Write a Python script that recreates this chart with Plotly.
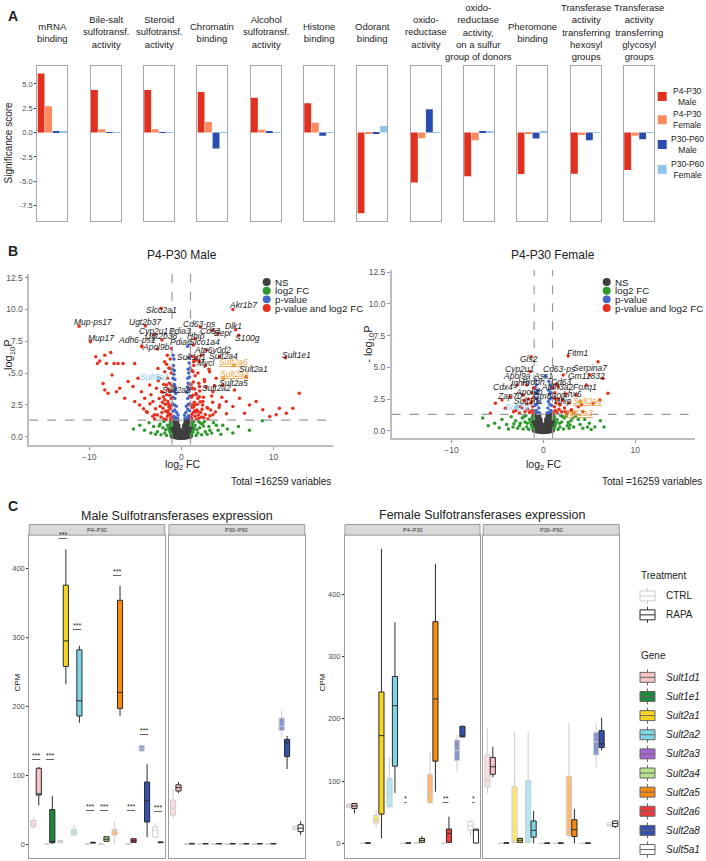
import plotly.graph_objects as go

W, H = 706, 861
FONT = "Liberation Sans, Arial, sans-serif"

# ---------------- Panel A data ----------------
go_terms = ["mRNA<br>binding", "Bile-salt<br>sulfotransf.<br>activity", "Steroid<br>sulfotransf.<br>activity",
            "Chromatin<br>binding", "Alcohol<br>sulfotransf.<br>activity", "Histone<br>binding",
            "Odorant<br>binding", "oxido-<br>reductase<br>activity",
            "oxido-<br>reductase<br>activity,<br>on a sulfur<br>group of donors",
            "Pheromone<br>binding", "Transferase<br>activity<br>transferring<br>hexosyl<br>groups",
            "Transferase<br>activity<br>transferring<br>glycosyl<br>groups"]
groups = ["P4-P30 Male", "P4-P30 Female", "P30-P60 Male", "P30-P60 Female"]
group_labels = ["P4-P30<br>Male", "P4-P30<br>Female", "P30-P60<br>Male", "P30-P60<br>Female"]
p4_male = [6.07, 4.37, 4.37, 4.16, 3.58, 3.0, -8.29, -5.12, -4.5, -4.27, -4.24, -3.86]
p4_female = [2.69, 0.35, 0.35, 1.09, 0.3, 1.02, -0.15, -0.58, -0.79, -0.1, -0.25, -0.34]
p30_male = [0.15, -0.05, -0.03, -1.64, 0.05, -0.34, -0.15, 2.39, 0.1, -0.61, -0.79, -0.68]
p30_female = [0.05, -0.05, -0.03, -0.05, -0.05, -0.03, 0.68, -0.03, 0.05, 0.1, -0.03, -0.03]
bar_colors = ["#E1301F", "#FB8A5E", "#2B4EAE", "#8FC4EB"]
a_ticks = [-7.5, -5.0, -2.5, 0.0, 2.5, 5.0]

# ---------------- Panel B data (volcano) ----------------
FC_CUT = 1.0
P_CUT = 1.3
male_ns = [(-0.9,0.1),(-0.6,0.05),(-0.3,0.02),(0,0.01),(0.3,0.02),(0.6,0.05),(0.9,0.1),(-0.8,0.4),(-0.5,0.3),
           (-0.2,0.2),(0.2,0.2),(0.5,0.3),(0.8,0.4),(-0.9,0.7),(-0.6,0.6),(-0.35,0.5),(0.35,0.5),(0.6,0.6),
           (0.9,0.7),(-0.95,1.0),(-0.7,0.95),(-0.45,0.85),(0.45,0.85),(0.7,0.95),(0.95,1.0),(-0.9,1.25),
           (-0.6,1.2),(0.6,1.2),(0.9,1.25),(-0.15,0.1),(0.15,0.1)]
male_green = [(-1.1,0.2),(-1.3,0.5),(-1.5,0.9),(-1.2,1.1),(-1.8,0.3),(-2.0,0.7),(-2.3,1.0),(-1.6,0.1),(-2.6,0.4),
              (-3.0,0.8),(-3.5,1.1),(-2.8,0.2),(-4.0,0.5),(-3.3,0.3),(-1.4,0.7),(-1.9,1.2),(-4.5,0.9),(-5.2,0.6),
              (-1.05,0.9),(-2.2,0.15),(1.1,0.2),(1.3,0.5),(1.5,0.9),(1.2,1.1),(1.8,0.3),(2.0,0.7),(2.3,1.0),
              (1.6,0.1),(2.6,0.4),(3.0,0.8),(3.5,1.1),(2.8,0.2),(4.0,0.5),(3.3,0.3),(1.4,0.7),(1.9,1.2),(4.5,0.9),
              (5.0,0.6),(5.6,0.3),(6.2,0.8),(7.4,0.5),(8.8,1.25),(1.05,0.9),(2.2,0.15),(3.8,0.9),(4.3,0.2),(2.5,1.2),
              (-1.2,0.35),(-1.7,0.55),(-2.4,0.85),(1.25,0.35),(1.7,0.55),(2.4,0.85),(3.1,0.5),(2.1,1.05),(1.35,1.2)]
male_blue = [(-0.95,1.5),(-0.8,1.6),(-0.6,1.5),(-0.4,1.45),(-0.9,2.0),(-0.7,2.1),(-0.5,1.9),(-0.35,1.7),(-0.95,2.6),
             (-0.75,2.5),(-0.55,2.4),(-0.9,3.1),(-0.7,3.0),(-0.6,3.4),(-0.85,3.6),(-0.95,4.0),(-0.75,4.1),(-0.65,3.9),
             (-0.9,4.6),(-0.8,4.9),(-0.7,4.5),(-0.95,5.3),(-0.85,5.6),(-0.8,6.1),(-0.9,6.4),(-0.75,5.2),
             (0.95,1.5),(0.8,1.65),(0.6,1.5),(0.4,1.45),(0.9,2.05),(0.7,2.15),(0.5,1.9),(0.35,1.7),(0.95,2.6),
             (0.75,2.55),(0.55,2.4),(0.9,3.2),(0.7,3.0),(0.6,3.5),(0.85,3.7),(0.95,4.1),(0.75,4.2),(0.65,3.9),
             (0.9,4.7),(0.8,5.0),(0.7,4.6),(0.95,5.4),(0.85,5.8),(0.8,6.2),(0.75,5.3),(0.7,7.1),(-0.6,3.7)]
male_red = [(-2.2,10.1),(5.6,10.0),(-11.1,8.68),(-3.9,8.7),(2.06,8.63),(3.43,8.37),(3.97,8.11),(5.9,8.4),(6.24,7.98),
            (-9.86,7.46),(-3.0,8.0),(-2.1,7.6),(-4.3,7.1),(-2.6,6.9),(1.5,7.7),(1.3,7.2),(2.7,6.81),(4.15,6.28),
            (11.3,6.2),(1.98,5.89),(7.04,4.72),(5.77,3.68),(3.43,3.54),(1.6,6.2),
            (-9.28,6.28),(-9.1,5.76),(-8.85,5.95),(-8.3,6.41),(-7.66,6.62),(-8.13,5.76),(-7.52,4.85),(-7.3,5.76),
            (-6.86,5.76),(-6.32,5.76),(-5.06,5.76),(-8.49,4.19),(-8.31,3.68),(-7.95,3.41),(-7.04,3.54),(-6.68,3.8),
            (-6.14,3.02),(-5.78,4.33),(-5.24,3.94),(-5.06,2.76),(-4.7,4.59),(-4.33,3.54),(-4.52,2.5),(-3.98,3.02),
            (-3.79,1.98),(-3.43,4.07),(-3.08,2.76),(-2.89,1.72),(-2.53,5.37),(-2.35,4.59),(-2.17,3.54),(-1.99,2.24),
            (-1.81,5.89),(-1.62,4.07),(-1.45,2.76),(-1.37,1.72),(-1.27,5.37),(-1.52,6.41),(-1.08,6.93),(-4.27,7.07),
            (12.8,3.41),(12.1,2.24),(10.65,2.24),(11.4,1.85),(10.3,1.72),(9.6,1.59),(8.84,2.11),(8.12,2.76),(7.4,2.5),
            (6.86,1.85),(6.32,3.02),(5.6,2.37),(4.88,2.76),(4.5,4.07),(3.79,4.59),(3.07,5.11),(2.52,4.33),(1.98,3.94),
            (1.62,3.29),(1.44,2.5),(1.8,1.98),(2.34,2.76),(2.88,2.24),(3.43,1.72),(4.15,2.5),(1.26,5.11),(1.19,3.8),
            (1.33,5.89),
            (-1.1,1.5),(-1.3,1.8),(-1.2,2.2),(-1.5,1.6),(-1.7,2.0),(-1.4,2.6),(-1.1,3.0),(-1.9,1.4),(-2.1,1.9),
            (-1.6,3.3),(-1.2,3.6),(-2.3,2.4),(-1.8,2.9),(-2.6,1.7),(-1.3,4.2),(-2.0,3.5),(-2.8,2.2),(-1.5,4.6),
            (-1.1,5.0),(-2.4,3.0),(-3.1,1.6),(-1.9,4.1),(-1.25,2.45),(-1.65,1.35),(-2.2,1.55),(-1.05,4.0),(-3.4,2.6),
            (-2.7,3.8),(-1.35,5.4),(-1.8,5.1),(-2.9,1.4),(-3.7,1.9),(-1.15,1.35),(-1.45,2.05),(-2.5,4.4),(-1.6,5.7),
            (-1.2,6.1),(-3.3,3.3),(-4.1,2.2),(-2.05,2.7),
            (1.1,1.5),(1.3,1.9),(1.2,2.3),(1.5,1.6),(1.7,2.1),(1.4,2.7),(1.1,3.1),(1.9,1.45),(2.1,1.9),(1.6,3.4),
            (1.2,3.8),(2.3,2.5),(1.8,3.0),(2.6,1.75),(1.3,4.3),(2.0,3.6),(2.8,2.3),(1.5,4.8),(1.15,5.2),(2.4,3.1),
            (3.1,1.65),(1.9,4.2),(1.25,2.5),(1.65,1.35),(2.2,1.55),(1.05,4.1),(3.4,2.7),(2.7,3.9),(1.35,5.6),(1.8,5.0),
            (2.9,1.4),(3.7,1.95),(1.15,1.35),(1.45,2.05),(2.5,4.5),(1.6,6.0),(1.2,6.3),(3.3,3.2),(4.1,2.3),(2.05,2.75),
            (3.0,5.3),(3.6,4.0),(4.4,3.1),(4.9,1.8),(2.2,6.4),(2.6,5.6),
            (-1.15,1.75),(-1.35,2.35),(-1.55,1.95),(-1.05,2.45),(-1.75,2.55),(-1.25,3.25),(-1.45,3.75),(-1.95,3.15),
            (1.15,1.75),(1.35,2.35),(1.55,1.95),(1.05,2.45),(1.75,2.55),(1.25,3.25),(1.45,3.75),(1.95,3.15),
            (2.25,2.15),(2.45,1.5),(1.85,1.7),(3.2,2.1)]
male_orange = [(5.7,5.6),(4.6,4.59)]
male_lightblue = [(-2.5,4.6)]
male_labels = ["Slco2a1","Akr1b7","Mup-ps17","Ugt2b37","Cd63-ps","Dlk1","Cyp2u1","Pdia3","Cd63","Eepr","Mup17",
               "Ugt2b38","Hhip","S100g","Adh6-ps1","Slco1a4","Pdia6","Apol9b","Atp6v0d2","Sult1d1","Sult2a4",
               "Sult1e1","Mycl","Sult2a6","Sult2a1","Sult5a1","Sult2a3","Sult2a5","Sult2a8","Sult2a2"]
male_label_x = [-2.17,6.75,-9.64,-3.9,1.98,5.7,-2.97,-0.18,3.14,4.58,-8.67,-2.24,1.62,7.22,-4.81,2.52,0.0,-2.78,
                3.42,1.08,4.62,12.5,2.7,5.7,7.83,-2.9,5.77,5.7,-0.54,3.79]
male_label_y = [9.98,10.38,9.02,9.02,8.89,8.71,8.29,8.29,8.32,8.16,7.77,7.9,7.93,7.72,7.59,7.46,7.46,7.07,6.81,
                6.29,6.34,6.46,5.81,5.89,5.32,4.72,4.9,4.19,3.68,3.86]

female_ns = male_ns
female_green = [(-1.1,0.2),(-1.3,0.5),(-1.5,0.9),(-1.2,1.1),(-1.8,0.3),(-2.0,0.7),(-2.3,1.0),(-1.6,0.1),(-2.6,0.4),
                (-3.0,0.8),(-3.5,1.1),(-2.8,0.2),(-4.0,0.5),(-3.3,0.3),(-1.4,0.7),(-1.9,1.2),(-4.5,0.9),(-5.3,0.6),
                (-6.0,0.4),(-6.6,1.0),(-2.2,0.15),(-3.8,0.15),(1.1,0.2),(1.3,0.5),(1.5,0.9),(1.2,1.1),(1.8,0.3),
                (2.0,0.7),(2.3,1.0),(1.6,0.1),(2.6,0.4),(3.0,0.8),(3.5,1.1),(2.8,0.2),(4.0,0.5),(3.3,0.3),(1.4,0.7),
                (1.9,1.2),(4.5,0.9),(5.0,0.6),(5.6,0.3),(6.2,0.8),(6.6,0.3),(2.2,0.15),(3.8,0.9),(4.3,0.2),(2.5,1.2),
                (5.2,0.1),(-1.05,0.95),(1.05,0.95),(-2.5,0.6),(2.7,0.65),(-4.8,0.25),(4.8,0.3),
                (-1.25,0.3),(-1.75,0.6),(-2.1,1.1),(1.25,0.3),(1.75,0.6),(2.1,1.1),(3.2,1.0),(-3.2,0.55),(2.9,0.45)]
female_blue = [(-0.95,1.5),(-0.8,1.6),(-0.6,1.45),(-0.4,1.4),(-0.9,2.0),(-0.7,2.1),(-0.5,1.8),(-0.9,2.6),(-0.7,2.5),
               (-0.55,2.3),(-0.85,3.0),(-0.65,2.9),(-0.9,3.4),(-0.75,3.6),(-0.85,4.0),(-0.6,3.2),
               (0.95,1.5),(0.8,1.6),(0.6,1.45),(0.4,1.4),(0.9,2.0),(0.7,2.1),(0.5,1.8),(0.9,2.6),(0.7,2.5),
               (0.55,2.3),(0.85,3.0),(0.65,2.9),(0.9,3.4),(0.75,3.6),(0.6,3.9),(0.6,3.2),(0.2,4.3)]
female_red = [(2.7,5.89),(-1.33,5.83),(5.95,5.44),(5.05,4.39),(6.49,4.13),(7.03,2.95),(6.13,2.43),(5.41,2.17),
              (4.15,2.04),(3.07,1.65),(3.61,2.83),(4.69,3.61),(2.16,4.39),(1.62,3.48),(1.26,2.56),(1.8,2.04),
              (2.35,1.51),(-5.22,2.17),(-5.76,1.38),(-4.5,2.43),(-3.6,2.69),(-3.24,1.51),(-2.52,1.91),(-2.16,2.83),
              (-1.8,3.61),(-1.44,4.65),(-1.26,2.3),(-1.15,1.6),(-2.88,3.61),(-4.14,1.77),
              (-1.1,1.4),(-1.3,1.6),(-1.5,1.45),(-1.2,1.9),(-1.7,1.7),(-2.0,1.5),(-1.4,2.2),(-1.1,2.6),(-1.8,2.1),
              (-2.3,1.8),(-2.6,1.4),(-1.6,2.5),(-1.25,3.0),(-2.1,2.4),(-3.0,1.6),(-1.05,3.4),
              (1.1,1.4),(1.3,1.6),(1.5,1.45),(1.2,1.9),(1.7,1.7),(2.0,1.5),(1.4,2.2),(1.1,2.6),(1.8,2.1),(2.3,1.8),
              (2.6,1.4),(1.6,2.5),(1.25,3.0),(2.1,2.4),(3.0,1.6),(1.05,3.4),(2.8,2.2),(3.3,1.45),(3.8,1.9),(4.3,1.5),
              (1.45,3.7),(2.5,2.9)]
female_orange = [(4.0,2.3),(3.2,1.4)]
female_lightblue = [(-2.9,1.9)]
female_labels = ["Fitm1","Gls2","Cyp2u1","Cd63-ps","Serpina7","Apol9a","Ass1","Gm11832","Ighm","Prodh","Cd63",
                 "Cdx4","Aldh3a2","Foxq1","Apol9b","Zap70","Gm8300","Lhx6","Sult1d1","Hhip","Sult2a6","Sult5a1","Sult2a3"]
female_label_x = [3.72,-1.58,-2.52,1.73,5.12,-2.88,-0.07,4.69,-2.52,-1.08,1.99,-4.39,1.45,4.51,-1.51,-3.67,0.65,
                  3.17,-1.62,2.16,4.76,-2.59,3.78]
female_label_y = [6.09,5.62,4.87,4.84,4.92,4.34,4.34,4.34,3.74,3.87,3.87,3.42,3.42,3.42,3.08,2.74,2.77,2.9,2.35,
                  2.35,2.38,1.91,1.44]
volcano_total = "Total =16259 variables"

# ---------------- Panel C data (boxplots: lo, q1, median, q3, hi) ----------------
genes = ["Sult1d1","Sult1e1","Sult2a1","Sult2a2","Sult2a3","Sult2a4","Sult2a5","Sult2a6","Sult2a8","Sult5a1"]
gene_colors = ["#F8C4C8","#1C8A3E","#F7D51D","#7ED6E6","#A566D3","#B6E48C","#F88B12","#EE3A3A","#3551AF","#FFFFFF"]
male_p4_ctrl = [[22,25,29,34,39],[0,0,0,0,0.5],[1,2,3,5,6],[12,13,17,21,28],[0,0,0,0,0.3],[0,0,0,0,0.3],
                [0,13,18,21,33],[0,0,0,0,0.3],[134,135,139,143,144],[9,10,20,25,31]]
male_p4_rapa = [[56,71,73,110,112],[0,2,3,50,70],[232,258,295,376,428],[176,186,208,282,288],[1,1.5,2,2.5,3],
                [3,4,7,10.6,11],[186,197,220,354,375],[2,2.4,4.8,7.7,8],[10,32,63,90,116],[1.5,2,2.5,3,3.5]]
male_p30_ctrl = [[36,42,52,64,80],[0,0,0,0,0.3],[0,0,0,0,0.3],[0,0,0,0,0.3],[0,0,0,0,0.3],[0,0,0,0,0.3],
                 [0,0,0,0,0.3],[0,0,0,0,0.3],[155,165,171,183,194],[20,21,23,26,27]]
male_p30_rapa = [[74,77,82,86,90],[0,0.2,0.5,0.8,1],[0,0.2,0.5,0.8,1],[0,0.2,0.5,0.8,1],[0,0.2,0.5,0.8,1],
                 [0,0.2,0.5,0.8,1],[0,0.2,0.5,0.8,1],[0,0.2,0.5,0.8,1],[109,127,147,152,157],[13,18,23,28,33]]
female_p4_ctrl = [[57,58,60,63,64],[0,0,0,0,0.5],[26,33,37,45,53],[56,59,80,104,139],[0,0,0,0,0.3],
                  [0,0.3,0.5,0.8,1],[63,65,80,111,147],[0,0,0,0,0.3],[115,133,149,166,175],[11,21,28,35,38]]
female_p4_rapa = [[48,56,60,64,65],[0,0.3,0.5,0.8,1],[8,47,173,243,473],[81,124,221,268,355],[0,0.3,0.5,0.8,1],
                  [1.6,1.6,4.8,8,11.7],[83,132,232,356,449],[1.6,1.6,16,23,43],[170,171,172,188,189],[0,0.5,21,23,23]]
female_p30_ctrl = [[80,91,101,142,184],[0,0,0,0,0.3],[0,1.6,2,91,179],[0,1.6,30,101,180],[0,0,0,0,0.3],
                   [0,0,0,0,0.3],[8,13,22,108,194],[0,0,0,0,0.3],[122,142,163,178,194],[27,28,30,33,34]]
female_p30_rapa = [[106,111,123,138,155],[0,0.3,0.5,0.8,1],[1,1.6,5,8,9],[0,10,21,36,52],[0,0.2,0.4,0.6,0.8],
                   [0,0.2,0.4,0.6,0.8],[0,11,22,38,55],[0,0.2,0.4,0.6,0.8],[149,154,160,181,202],[25,27,32,36,37]]
male_star_text = ["***","***","***","***","***","***","***","***","***","***"]
male_star_y = [120,120,441,309,47,47,388,47,157,45]
female_star_genes = ["Sult2a3","Sult2a6","Sult5a1"]
female_star_text = ["*","**","*"]
female_star_y = [64,64,64]
cpm_ticks = [0, 100, 200, 300, 400]

# ---------------- helpers ----------------
def px(p):
    return p / W

def py(p):
    return 1 - p / H

def an(n):
    return "" if n == 1 else str(n)

fig = go.Figure()
layout = dict(width=W, height=H, margin=dict(l=0, r=0, t=0, b=0), paper_bgcolor="white",
              plot_bgcolor="white", showlegend=False, font=dict(family=FONT, color="#222"),
              boxmode="group", boxgap=0.2, boxgroupgap=0.05, bargap=0.08)
annotations = []
shapes = []

def text(x, y, s, size=10, color="#222", xanchor="center", yanchor="middle", angle=0, xref="paper", yref="paper"):
    annotations.append(dict(x=x, y=y, xref=xref, yref=yref, text=s, showarrow=False, xanchor=xanchor,
                            yanchor=yanchor, textangle=angle, font=dict(size=size, color=color, family=FONT)))

# ---------------- Panel A ----------------
text(px(6), py(13), "<b>A</b>", size=14, xanchor="left")
for i in range(12):
    n = i + 1
    left = 37.3 + 53.33 * i
    fig.add_trace(go.Bar(x=groups, y=[p4_male[i], p4_female[i], p30_male[i], p30_female[i]],
                         marker=dict(color=bar_colors, line=dict(width=0)),
                         xaxis="x" + an(n), yaxis="y" + an(n), hoverinfo="skip"))
    layout["xaxis" + an(n)] = dict(domain=[px(left), px(left + 30)], anchor="y" + an(n), type="category",
                                    range=[-0.5, 3.5], showticklabels=False, ticks="", showline=True, mirror=True,
                                    linecolor="#A8A8A8", linewidth=1, showgrid=False, zeroline=False)
    ya = dict(domain=[py(218.3), py(63.3)], anchor="x" + an(n), range=[-9.04, 6.83], showline=True, mirror=True,
              linecolor="#A8A8A8", linewidth=1, showgrid=False, zeroline=False)
    if i == 0:
        ya.update(tickvals=a_ticks, ticktext=["%.1f" % v for v in a_ticks], ticks="outside", ticklen=2,
                  tickcolor="#333", tickfont=dict(size=7.5, color="#4D4D4D"))
    else:
        ya.update(showticklabels=False, ticks="")
    layout["yaxis" + an(n)] = ya
    text(px(left + 15), py(29.5), go_terms[i], size=9.5)
text(px(9), py(140), "Significance score", size=10, angle=-90)
leg_y = [93.8, 117.2, 142, 167]
for k in range(4):
    shapes.append(dict(type="rect", xref="paper", yref="paper", x0=px(657.7), x1=px(666.7),
                       y0=py(leg_y[k] + 4.5), y1=py(leg_y[k] - 4.5), fillcolor=bar_colors[k], line=dict(width=0)))
    text(px(687), py(leg_y[k]), group_labels[k], size=8.5)

# ---------------- Panel B ----------------
text(px(6), py(249), "<b>B</b>", size=14, xanchor="left")
vol_cfg = [
    dict(n=13, dom_x=[29.3, 333.3], dom_y=[443.3, 272], yr=[-0.63, 12.78], title="P4-P30 Male", tx=182,
         ns=male_ns, green=male_green, blue=male_blue, red=male_red, orange=male_orange, lb=male_lightblue,
         labels=male_labels, lx=male_label_x, ly=male_label_y, leg_x=266.7, ylab=(9, 357), xlab=182, total_x=333),
    dict(n=14, dom_x=[391.7, 695], dom_y=[436.7, 268], yr=[-0.58, 12.66], title="P4-P30 Female", tx=553,
         ns=female_ns, green=female_green, blue=female_blue, red=female_red, orange=female_orange,
         lb=female_lightblue, labels=female_labels, lx=female_label_x, ly=female_label_y, leg_x=606.7,
         ylab=(369, 342), xlab=543, total_x=704),
]
vol_colors = dict(ns="#3F3F3F", green="#2E9A2E", blue="#4468C8", red="#E7311F", orange="#E8A33A", lb="#86C9EE")
for c in vol_cfg:
    n = c["n"]
    xa, ya = "x" + an(n), "y" + an(n)
    for key, size in [("ns", 7), ("green", 3.5), ("blue", 3.5), ("red", 3.5), ("orange", 4), ("lb", 4)]:
        pts = c[key]
        fig.add_trace(go.Scatter(x=[p[0] for p in pts], y=[p[1] for p in pts], mode="markers",
                                 marker=dict(color=vol_colors[key], size=size, line=dict(width=0)),
                                 xaxis=xa, yaxis=ya, hoverinfo="skip"))
    layout["xaxis" + an(n)] = dict(domain=[px(c["dom_x"][0]), px(c["dom_x"][1])], anchor=ya, range=[-16.5, 16.5],
                                    tickvals=[-10, 0, 10], ticks="outside", ticklen=3, tickcolor="#999",
                                    tickfont=dict(size=8.5, color="#555"), showline=True, linecolor="#BDBDBD",
                                    linewidth=1.5, showgrid=False, zeroline=False)
    vt = [0, 2.5, 5, 7.5, 10, 12.5]
    layout["yaxis" + an(n)] = dict(domain=[py(c["dom_y"][0]), py(c["dom_y"][1])], anchor=xa, range=c["yr"],
                                    tickvals=vt, ticktext=["%.1f" % v for v in vt], ticks="outside", ticklen=3,
                                    tickcolor="#999", tickfont=dict(size=8.5, color="#555"), showline=True,
                                    linecolor="#BDBDBD", linewidth=1.5, showgrid=False, zeroline=False)
    for xv in (-FC_CUT, FC_CUT):
        shapes.append(dict(type="line", xref=xa, yref=ya, x0=xv, x1=xv, y0=c["yr"][0], y1=c["yr"][1],
                           line=dict(color="#9A9A9A", width=1.2, dash="dash")))
    shapes.append(dict(type="line", xref=xa, yref=ya, x0=-16.5, x1=16.5, y0=P_CUT, y1=P_CUT,
                       line=dict(color="#9A9A9A", width=1.2, dash="dash")))
    for lab, lx, ly in zip(c["labels"], c["lx"], c["ly"]):
        col = "#222"
        s = "<i>%s</i>" % lab
        if lab in ("Sult2a6", "Sult2a3"):
            col = vol_colors["orange"]
            s = "<u><i>%s</i></u>" % lab
        elif lab == "Sult5a1":
            col = vol_colors["lb"]
        text(lx, ly, s, size=8.5, color=col, xref=xa, yref=ya)
    text(px(c["tx"]), py(253), c["title"], size=12)
    text(px(c["ylab"][0]), py(c["ylab"][1]), "- log<sub>10</sub>P", size=11, angle=-90)
    text(px(c["xlab"]), py(464), "log<sub>2</sub> FC", size=10.5)
    text(px(c["total_x"]), py(480), volcano_total, size=10, xanchor="right")
    for k, (lbl, key) in enumerate([("NS", "ns"), ("log2 FC", "green"), ("p-value", "blue"),
                                     ("p-value and log2 FC", "red")]):
        yy = 280 + 8.7 * k
        shapes.append(dict(type="circle", xref="paper", yref="paper", x0=px(c["leg_x"] - 4), x1=px(c["leg_x"] + 4),
                           y0=py(yy + 4), y1=py(yy - 4), fillcolor=vol_colors[key], line=dict(width=0)))
        text(px(c["leg_x"] + 6), py(yy), lbl, size=9.8, xanchor="left")

# ---------------- Panel C ----------------
text(px(6), py(505), "<b>C</b>", size=14, xanchor="left")
facets = [
    dict(n=15, dom=[29.3, 164.7], yr=[-20.3, 448.6], strip="P4–P30", ctrl=male_p4_ctrl, rapa=male_p4_rapa, labels=True),
    dict(n=16, dom=[169, 304.7], yr=[-20.3, 448.6], strip="P30–P60", ctrl=male_p30_ctrl, rapa=male_p30_rapa, labels=False),
    dict(n=17, dom=[345, 480], yr=[-23.5, 494.9], strip="P4–P30", ctrl=female_p4_ctrl, rapa=female_p4_rapa, labels=True),
    dict(n=18, dom=[483.3, 619.3], yr=[-23.5, 494.9], strip="P30–P60", ctrl=female_p30_ctrl, rapa=female_p30_rapa, labels=False),
]

def rgba(hexc, a):
    h = hexc.lstrip("#")
    return "rgba(%d,%d,%d,%.2f)" % (int(h[0:2], 16), int(h[2:4], 16), int(h[4:6], 16), a)

for f in facets:
    n = f["n"]
    xa, ya = "x" + an(n), "y" + an(n)
    for gi, g in enumerate(genes):
        for tr, stats, fill, lc in [("CTRL", f["ctrl"][gi], rgba(gene_colors[gi], 0.6), "#CDCDCD"),
                                    ("RAPA", f["rapa"][gi], gene_colors[gi], "#2B2B2B")]:
            lo, q1, med, q3, hi = stats
            fig.add_trace(go.Box(x=[g], q1=[q1], median=[med], q3=[q3], lowerfence=[lo], upperfence=[hi],
                                 fillcolor=fill, line=dict(color=lc, width=1), whiskerwidth=0,
                                 offsetgroup=tr, alignmentgroup="f%d" % n, boxpoints=False,
                                 xaxis=xa, yaxis=ya, hoverinfo="skip"))
    layout["xaxis" + an(n)] = dict(domain=[px(f["dom"][0]), px(f["dom"][1])], anchor=ya, type="category",
                                    categoryorder="array", categoryarray=genes, range=[-0.5, 9.5],
                                    showticklabels=False, ticks="", showline=True, mirror=True,
                                    linecolor="#9A9A9A", linewidth=1, showgrid=False, zeroline=False)
    yax = dict(domain=[py(858), py(534)], anchor=xa, range=f["yr"], showline=True, mirror=True,
               linecolor="#9A9A9A", linewidth=1, showgrid=False, zeroline=False)
    if f["labels"]:
        yax.update(tickvals=cpm_ticks, ticks="outside", ticklen=2, tickcolor="#333",
                   tickfont=dict(size=7.5, color="#4D4D4D"))
    else:
        yax.update(showticklabels=False, ticks="")
    layout["yaxis" + an(n)] = yax
    shapes.append(dict(type="rect", xref="paper", yref="paper", x0=px(f["dom"][0]), x1=px(f["dom"][1]),
                       y0=py(534), y1=py(523.3), fillcolor="#D9D9D9", line=dict(color="#9A9A9A", width=1)))
    text(px((f["dom"][0] + f["dom"][1]) / 2), py(528.7), f["strip"], size=5.5, color="#333")

for g, s, yv in zip(genes, male_star_text, male_star_y):
    text(g, yv, "<u>%s</u>" % s, size=7, xref="x15", yref="y15", yanchor="bottom")
for g, s, yv in zip(female_star_genes, female_star_text, female_star_y):
    text(g, yv, "<u>%s</u>" % s, size=7, xref="x17", yref="y17", yanchor="bottom")

text(px(177), py(515), "Male Sulfotransferases expression", size=12.5)
text(px(482), py(514), "Female Sulfotransferases expression", size=12.5)
text(px(18), py(682), "CPM", size=8, angle=-90)
text(px(323), py(682), "CPM", size=8, angle=-90)

def legend_icon(cy, fill, lc):
    shapes.append(dict(type="line", xref="paper", yref="paper", x0=px(647.5), x1=px(647.5), y0=py(cy - 8),
                       y1=py(cy + 8), line=dict(color=lc, width=1)))
    shapes.append(dict(type="rect", xref="paper", yref="paper", x0=px(640), x1=px(655), y0=py(cy + 5),
                       y1=py(cy - 5), fillcolor=fill, line=dict(color=lc, width=1)))
    shapes.append(dict(type="line", xref="paper", yref="paper", x0=px(640), x1=px(655), y0=py(cy),
                       y1=py(cy), line=dict(color=lc, width=1)))

text(px(639), py(574), "Treatment", size=10, xanchor="left")
legend_icon(595, "white", "#CDCDCD")
text(px(664), py(595), "CTRL", size=10, xanchor="left")
legend_icon(614, "white", "#2B2B2B")
text(px(664), py(614), "RAPA", size=10, xanchor="left")
text(px(639), py(655), "Gene", size=10, xanchor="left")
for k, g in enumerate(genes):
    cy = 676.7 + 19.2 * k
    legend_icon(cy, gene_colors[k], "#666666")
    text(px(664), py(cy), "<i>%s</i>" % g, size=10, xanchor="left")

layout["annotations"] = annotations
layout["shapes"] = shapes
fig.update_layout(**layout)
fig.write_html("out.html", config={"displayModeBar": False},
               post_script="document.body.style.margin='0px';document.body.style.overflow='hidden';")
